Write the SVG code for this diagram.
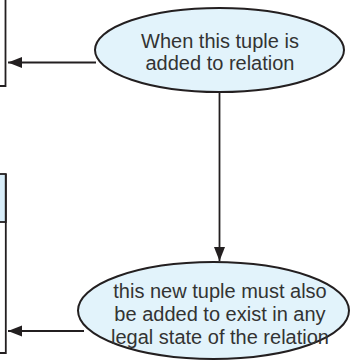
<svg xmlns="http://www.w3.org/2000/svg" width="351" height="363" viewBox="0 0 351 363">
<style>
.box{fill:none;stroke:#231f20;stroke-width:1.8}
.hdr{fill:#d8edf9;stroke:#231f20;stroke-width:1.8}
.ell{fill:#e2f3fb;stroke:#231f20;stroke-width:2}
.con{stroke:#231f20;stroke-width:1.8;fill:none}
.t{font-family:"Liberation Sans",Arial,sans-serif;font-size:20px;fill:#333;text-anchor:middle}
</style>
<defs>
<marker id="ah" markerUnits="userSpaceOnUse" markerWidth="15" markerHeight="12" refX="14" refY="6" orient="auto">
<path d="M0,0.5 L14,6 L0,11.5 Z" fill="#231f20"/>
</marker>
</defs>
<g id="relation1">
<path class="box" d="M-2,86 L5.5,86 L5.5,-2"/>
</g>
<g id="relation2">
<rect class="hdr" x="-5" y="174" width="10.8" height="48"/>
<path class="box" d="M-2,353 L5.8,353 L5.8,174"/>
</g>
<g id="connectors">
<line class="con" x1="96" y1="62.5" x2="8" y2="62.5" marker-end="url(#ah)"/>
<line class="con" x1="219.5" y1="92" x2="219.5" y2="261" marker-end="url(#ah)"/>
<line class="con" x1="84" y1="331" x2="8" y2="331" marker-end="url(#ah)"/>
</g>
<g id="node1">
<ellipse class="ell" cx="219.5" cy="50" rx="124.5" ry="42"/>
<text class="t" x="220" y="47.5">When this tuple is</text>
<text class="t" x="220" y="69.5">added to relation</text>
</g>
<g id="node2">
<ellipse class="ell" cx="213.5" cy="310.5" rx="135.5" ry="48.5"/>
<text class="t" x="220" y="298">this new tuple must also</text>
<text class="t" x="220" y="321">be added to exist in any</text>
<text class="t" x="220" y="344">legal state of the relation</text>
</g>
</svg>
